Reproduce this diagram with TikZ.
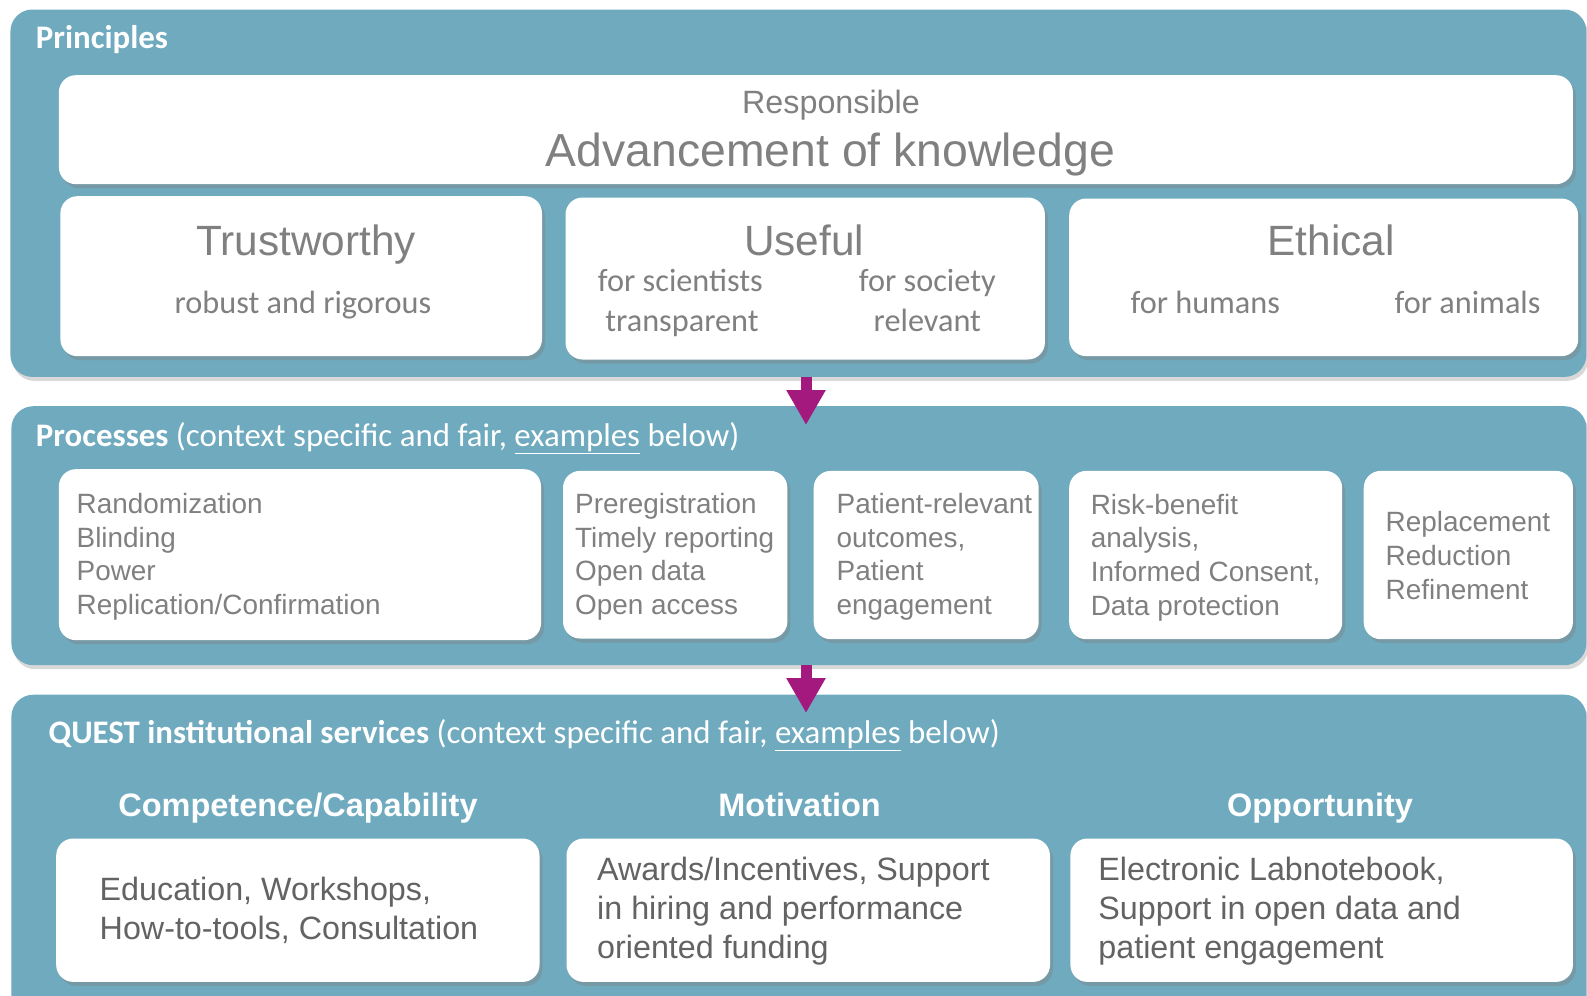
\documentclass[tikz,border=0pt]{standalone}
\usepackage{fontspec}
\setmainfont{Liberation Sans}
\newfontfamily\calfont{Carlito}
\usetikzlibrary{shadows,arrows.meta}
\definecolor{panelc}{HTML}{6FAABF}
\definecolor{arrowc}{HTML}{A3197D}
\definecolor{txtg}{HTML}{808080}
\definecolor{txtd}{HTML}{636363}
\newcommand\fsz[2]{\fontsize{#1}{#2}\selectfont}
\newcommand\mylines[1]{\begin{tabular}[t]{@{}l@{}}#1\end{tabular}}
\tikzset{
  panel/.style={fill=panelc, draw=none, rounded corners=22bp, anchor=north west, inner sep=0,
    drop shadow={opacity=0.3, shadow xshift=2bp, shadow yshift=-4bp}},
  wbox/.style={fill=white, draw=none, rounded corners=17bp, anchor=north west, inner sep=0,
    drop shadow={opacity=0.4, shadow xshift=3bp, shadow yshift=-4bp}},
  hdr/.style={anchor=base west, inner sep=0, text=white, font=\calfont\fsz{33}{38}},
  big/.style={anchor=base, inner sep=0, text=txtg, font=\fsz{42.5}{48}},
  sub/.style={anchor=base, inner sep=0, text=txtg, font=\calfont\fsz{32.4}{38}},
  proc/.style={anchor=base west, inner sep=0, text=txtg, font=\fsz{28}{33.9}},
  svc/.style={anchor=base, inner sep=0, text=white, font=\bfseries\fsz{32.6}{38}},
  svctxt/.style={anchor=base west, inner sep=0, text=txtd, font=\fsz{32.4}{39.2}},
  flow/.style={draw=arrowc, line width=11bp, -{Triangle[length=35bp,width=37bp]}}
}
\begin{document}
\begin{tikzpicture}[x=1bp,y=-1bp]
\useasboundingbox (0,0) rectangle (1587,995);
\clip (0,0) rectangle (1587,995);
\fill[white] (0,0) rectangle (1587,995);
% panels
\node[panel, minimum width=1576bp, minimum height=367.4bp] (p1) at (10.2,9.3) {};
\node[panel, minimum width=1575bp, minimum height=259bp] (p2) at (11.2,406) {};
\node[panel, minimum width=1575bp, minimum height=340bp] (p3) at (11.2,694.5) {};
% principles
\node[hdr, font=\calfont\bfseries\fsz{33}{38}] (h1) at (35.7,48.3) {Principles};
\node[wbox, minimum width=1514bp, minimum height=109bp] (adv) at (58.7,75) {};
\node[anchor=base, inner sep=0, text=txtg, font=\fsz{32.4}{38}] (resp) at (831,113.3) {Responsible};
\node[anchor=base, inner sep=0, text=txtg, font=\fsz{46.5}{52}] (advt) at (830.5,166.7) {Advancement of knowledge};
\node[wbox, minimum width=481.6bp, minimum height=160bp] (trust) at (60.2,196) {};
\node[wbox, minimum width=479.4bp, minimum height=162bp] (useful) at (565.3,197.3) {};
\node[wbox, minimum width=509bp, minimum height=157.7bp] (ethical) at (1069,198.3) {};
\node[big] (trustt) at (306,255) {Trustworthy};
\node[sub] (trusts) at (303,313.3) {robust and rigorous};
\node[big] (usefult) at (804,255) {Useful};
\node[sub] (us1) at (680.4,291.7) {for scientists};
\node[sub] (us2) at (682,331) {transparent};
\node[sub] (us3) at (927.3,291.7) {for society};
\node[sub] (us4) at (927.3,331) {relevant};
\node[big] (etht) at (1331,255) {Ethical};
\node[sub] (et1) at (1205.3,313.3) {for humans};
\node[sub] (et2) at (1467.6,313.3) {for animals};
% processes
\node[hdr] (h2) at (35.7,446.7) {\textbf{Processes} (context specific and fair, \underline{examples} below)};
\node[wbox, minimum width=482.1bp, minimum height=171bp] (pr1) at (58.7,469) {};
\node[wbox, minimum width=224.4bp, minimum height=167.6bp] (pr2) at (562.8,470.7) {};
\node[wbox, minimum width=225bp, minimum height=168.3bp] (pr3) at (813.5,470.7) {};
\node[wbox, minimum width=273bp, minimum height=168.3bp] (pr4) at (1069,470.7) {};
\node[wbox, minimum width=209.2bp, minimum height=168.3bp] (pr5) at (1363.5,470.7) {};
\node[proc] (pr1t) at (76.5,513.3) {\mylines{Randomization\\Blinding\\Power\\Replication/Confirmation}};
\node[proc] (pr2t) at (575,513.3) {\mylines{Preregistration\\Timely reporting\\Open data\\Open access}};
\node[proc] (pr3t) at (836.5,513.3) {\mylines{Patient-relevant\\outcomes,\\Patient\\engagement}};
\node[proc] (pr4t) at (1090.6,514) {\mylines{Risk-benefit\\analysis,\\Informed Consent,\\Data protection}};
\node[proc] (pr5t) at (1385.5,531.7) {\mylines{Replacement\\Reduction\\Refinement}};
% services
\node[hdr] (h3) at (48.5,743.3) {\textbf{QUEST institutional services} (context specific and fair, \underline{examples} below)};
\node[svc] (comp) at (298,816.7) {Competence/Capability};
\node[svc] (mot) at (799.6,816.7) {Motivation};
\node[svc] (opp) at (1320,816.7) {Opportunity};
\node[wbox, minimum width=483.3bp, minimum height=143.4bp] (compb) at (56,838.3) {};
\node[wbox, minimum width=483.5bp, minimum height=143.4bp] (motb) at (566.3,838.3) {};
\node[wbox, minimum width=502.5bp, minimum height=143.4bp] (oppb) at (1070.2,838.3) {};
\node[svctxt] (compt) at (99.5,900) {\mylines{Education, Workshops,\\How-to-tools, Consultation}};
\node[svctxt] (mott) at (597,880) {\mylines{Awards/Incentives, Support\\in hiring and performance\\oriented funding}};
\node[svctxt] (oppt) at (1098.2,880) {\mylines{Electronic Labnotebook,\\Support in open data and\\patient engagement}};
% arrows
\coordinate (a1s) at (806,376.7);
\coordinate (a1e) at (806,425);
\coordinate (a2s) at (806,665);
\coordinate (a2e) at (806,713);
\draw[flow] (a1s) -- (a1e);
\draw[flow] (a2s) -- (a2e);
\end{tikzpicture}
\end{document}
